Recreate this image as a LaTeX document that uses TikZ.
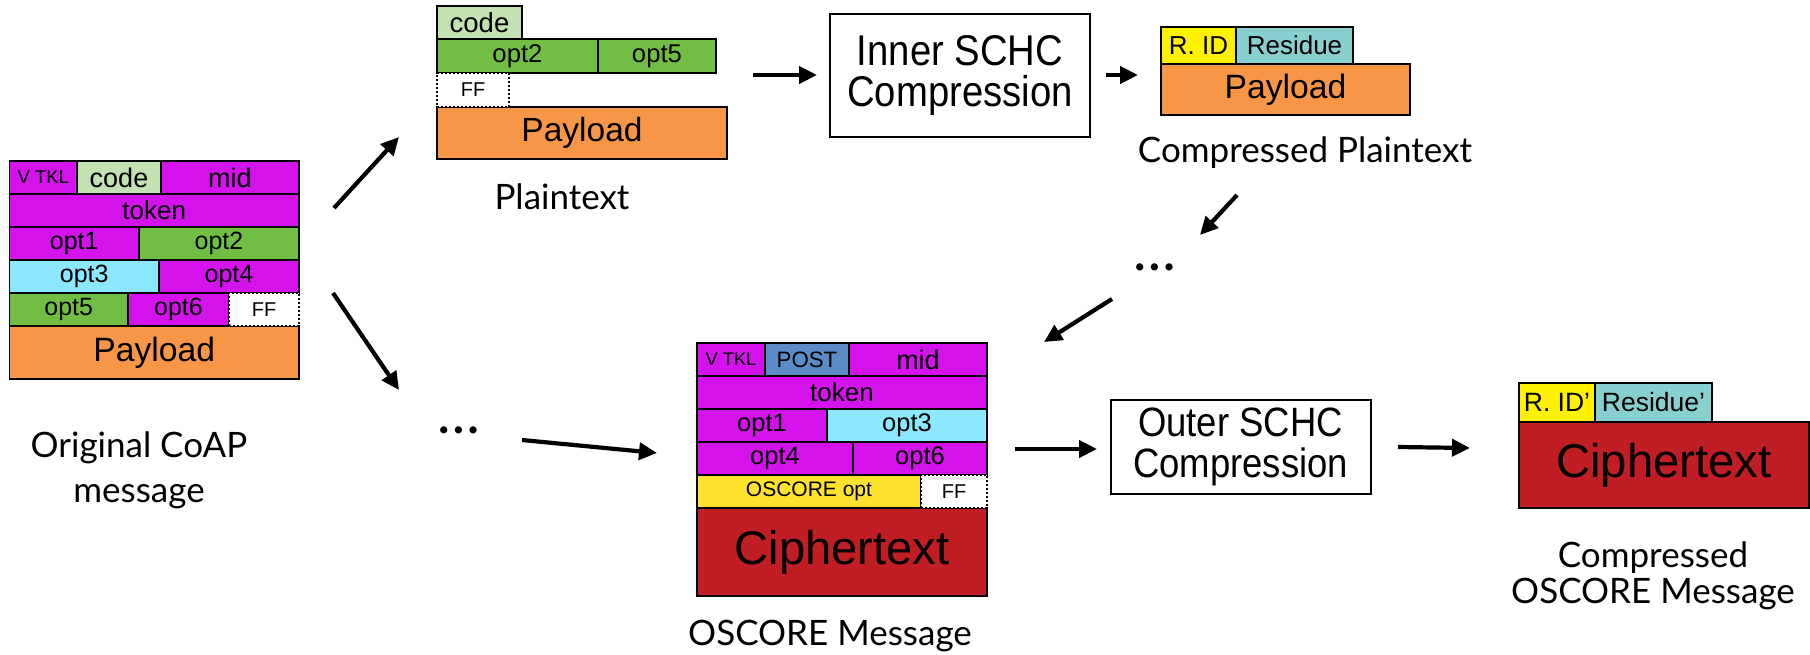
\documentclass[tikz,border=0pt]{standalone}
\usepackage{fontspec}
\usetikzlibrary{arrows.meta}
\newfontfamily\boxfont{Liberation Sans}
\newfontfamily\boxfontnarrow[FakeStretch=0.89]{Liberation Sans}
\newfontfamily\labelfont{Lato}
\newcommand\pxsize[1]{\fontsize{#1}{#1}\selectfont}

\definecolor{cmag}{RGB}{212,18,236}
\definecolor{cltgreen}{RGB}{195,226,178}
\definecolor{cgreen}{RGB}{114,190,68}
\definecolor{ccyan}{RGB}{140,232,255}
\definecolor{corange}{RGB}{247,150,70}
\definecolor{cred}{RGB}{192,30,36}
\definecolor{cblue}{RGB}{91,140,200}
\definecolor{cyellow}{RGB}{254,226,46}
\definecolor{cyelrid}{RGB}{255,242,0}
\definecolor{cteal}{RGB}{136,208,208}

% one header field: [options]{name}{x}{y}{width}{height}{text}
\newcommand\fieldbox[7][]{%
  \node[field,#1,minimum width=#5pt,minimum height=#6pt] (#2) at (#3,#4) {#7};}

\tikzset{
  field/.style={draw=black, line width=1.8pt, inner sep=0pt, outer sep=0pt,
    anchor=north west, text=black},
  ffbox/.style={fill=white, dash pattern=on 2pt off 2pt, font=\boxfont\pxsize{20}},
  procbox/.style={draw=black, line width=2pt, fill=white, anchor=north west,
    inner sep=0pt, align=center, font=\boxfontnarrow\fontsize{41}{41}\selectfont},
  lbl/.style={inner sep=0pt, align=center, text=black},
  elide/.style={inner sep=0pt, text=black, font=\labelfont\pxsize{57}},
  flow/.style={line width=4.2pt, -{Triangle[length=18pt,width=17pt]}},
}

\begin{document}
\begin{tikzpicture}[x=1pt,y=-1pt]
\fill[white] (0,0) rectangle (1810,654);
\useasboundingbox (0,0) rectangle (1810,654);

% ---- original CoAP message ----
\fieldbox[fill=cmag,font=\boxfont\pxsize{18.4}]{o-vtkl}{9.5}{161}{67.5}{33}{V TKL}
\fieldbox[fill=cltgreen,font=\boxfont\pxsize{27}]{o-code}{77}{161}{84}{33}{code}
\fieldbox[fill=cmag,font=\boxfont\pxsize{27}]{o-mid}{161}{161}{138}{33}{mid}
\fieldbox[fill=cmag,font=\boxfont\pxsize{26}]{o-token}{9.5}{194}{289.5}{33}{token}
\fieldbox[fill=cmag,font=\boxfont\pxsize{25}]{o-opt1}{9.5}{227}{129.5}{33}{opt1}
\fieldbox[fill=cgreen,font=\boxfont\pxsize{25}]{o-opt2}{139}{227}{160}{33}{opt2}
\fieldbox[fill=ccyan,font=\boxfont\pxsize{25}]{o-opt3}{9.5}{260}{149.5}{33}{opt3}
\fieldbox[fill=cmag,font=\boxfont\pxsize{25}]{o-opt4}{159}{260}{140}{33}{opt4}
\fieldbox[fill=cgreen,font=\boxfont\pxsize{25}]{o-opt5}{9.5}{293}{118.5}{33}{opt5}
\fieldbox[fill=cmag,font=\boxfont\pxsize{25}]{o-opt6}{128}{293}{101}{33}{opt6}
\fieldbox[fill=corange,font=\boxfont\pxsize{33.7}]{o-payload}{9.5}{326}{289.5}{53}{Payload}
\fieldbox[ffbox]{o-ff}{229}{293}{70}{33}{FF}

% ---- plaintext ----
\fieldbox[fill=cltgreen,font=\boxfont\pxsize{27.5}]{p-code}{437}{6}{85}{33.3}{code}
\fieldbox[fill=cgreen,font=\boxfont\pxsize{25.7}]{p-opt2}{437}{39.3}{161}{33.4}{opt2}
\fieldbox[fill=cgreen,font=\boxfont\pxsize{25.7}]{p-opt5}{598}{39.3}{118}{33.4}{opt5}
\fieldbox[fill=corange,font=\boxfont\pxsize{33.5}]{p-payload}{437}{106.7}{290}{52.6}{Payload}
\fieldbox[ffbox]{p-ff}{437}{72.7}{72}{34}{FF}

% ---- OSCORE message ----
\fieldbox[fill=cmag,font=\boxfont\pxsize{18.2}]{s-vtkl}{697}{343}{68}{33}{V TKL}
\fieldbox[fill=cblue,font=\boxfont\pxsize{22.3}]{s-post}{765}{343}{84}{33}{POST}
\fieldbox[fill=cmag,font=\boxfont\pxsize{27}]{s-mid}{849}{343}{138}{33}{mid}
\fieldbox[fill=cmag,font=\boxfont\pxsize{26}]{s-token}{697}{376}{290}{33}{token}
\fieldbox[fill=cmag,font=\boxfont\pxsize{25.5}]{s-opt1}{697}{409}{130}{33}{opt1}
\fieldbox[fill=ccyan,font=\boxfont\pxsize{25.5}]{s-opt3}{827}{409}{160}{33}{opt3}
\fieldbox[fill=cmag,font=\boxfont\pxsize{25.5}]{s-opt4}{697}{442}{156}{33}{opt4}
\fieldbox[fill=cmag,font=\boxfont\pxsize{25.5}]{s-opt6}{853}{442}{134}{33}{opt6}
\fieldbox[fill=cyellow,font=\boxfont\pxsize{21}]{s-oscopt}{697}{475}{224}{33}{OSCORE opt}
\fieldbox[fill=cred,font=\boxfont\pxsize{47.2}]{s-cipher}{697}{508}{290}{88}{Ciphertext}
\fieldbox[ffbox]{s-ff}{921}{475}{66}{33}{FF}

% ---- compressed plaintext ----
\fieldbox[fill=cyelrid,font=\boxfont\pxsize{26}]{cp-rid}{1161}{27}{75}{37.3}{R. ID}
\fieldbox[fill=cteal,font=\boxfont\pxsize{26}]{cp-res}{1236}{27}{117}{37.3}{Residue}
\fieldbox[fill=corange,font=\boxfont\pxsize{33.7}]{cp-payload}{1161}{64.3}{249}{50.7}{Payload}

% ---- compressed OSCORE message ----
\fieldbox[fill=cyelrid,font=\boxfont\pxsize{26.5}]{co-rid}{1519}{383.3}{76}{38.4}{R. ID’}
\fieldbox[fill=cteal,font=\boxfont\pxsize{26.5}]{co-res}{1595}{383.3}{117}{38.4}{Residue’}
\fieldbox[fill=cred,font=\boxfont\pxsize{47.3}]{co-cipher}{1519}{421.7}{290}{86.6}{Ciphertext}

% ---- compression stages ----
\node[procbox,minimum width=260pt,minimum height=123pt,
      font=\boxfontnarrow\fontsize{43}{41}\selectfont] (inner) at (829,13) {Inner SCHC\\Compression};
\node[procbox,minimum width=260pt,minimum height=93.4pt] (outer) at (1109.5,399.3) {Outer SCHC\\Compression};

% ---- captions (base = baseline of the last line) ----
\node[lbl,anchor=base,font=\labelfont\fontsize{35}{45}\selectfont] (l-orig) at (139,502) {Original CoAP\\message};
\node[lbl,anchor=base,font=\labelfont\pxsize{35}] (l-plain) at (562,209) {Plaintext};
\node[lbl,anchor=base,font=\labelfont\pxsize{35}] (l-cplain) at (1305,162) {Compressed Plaintext};
\node[lbl,anchor=base,font=\labelfont\pxsize{35}] (l-oscore) at (830,645) {OSCORE Message};
\node[lbl,anchor=base,font=\labelfont\fontsize{35}{36}\selectfont] (l-coscore) at (1653,603) {Compressed\\OSCORE Message};

% ---- elided steps ----
\node[elide,anchor=base] (dots-a) at (459,433) {…};
\node[elide,anchor=base] (dots-b) at (1155,270) {…};

% ---- flow arrows ----
\coordinate (a1s) at (334,208);   \coordinate (a1e) at (399,137);
\coordinate (a2s) at (333,293);   \coordinate (a2e) at (399,390);
\coordinate (a3s) at (522,440);   \coordinate (a3e) at (657,453);
\coordinate (a4s) at (753,75);    \coordinate (a4e) at (817,75);
\coordinate (a5s) at (1106,75);   \coordinate (a5e) at (1138,75);
\coordinate (a6s) at (1237,195);  \coordinate (a6e) at (1200,235);
\coordinate (a7s) at (1112,299);  \coordinate (a7e) at (1044,342);
\coordinate (a8s) at (1015,449);  \coordinate (a8e) at (1097,449);
\coordinate (a9s) at (1398,447);  \coordinate (a9e) at (1470,448);
\foreach \k in {1,...,9} \draw[flow] (a\k s) -- (a\k e);
\end{tikzpicture}
\end{document}
